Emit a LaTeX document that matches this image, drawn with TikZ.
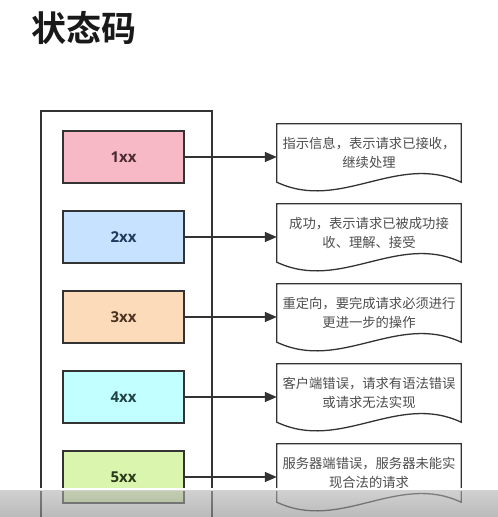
\documentclass[tikz,border=0pt]{standalone}
\usepackage{fontspec}
\newfontfamily\cjk{Noto Sans CJK SC}
\newfontfamily\cjkbold{Noto Sans CJK SC Bold}
\newfontfamily\lbl{Open Sans Bold}
\usetikzlibrary{arrows.meta,calc}
\definecolor{c1}{HTML}{F8B9C6}
\definecolor{c2}{HTML}{C6E2FF}
\definecolor{c3}{HTML}{FCDBBA}
\definecolor{c4}{HTML}{C2FFFF}
\definecolor{c5}{HTML}{DAF5AE}
\definecolor{t1}{HTML}{4A2A30}
\definecolor{t2}{HTML}{1F3A5A}
\definecolor{t3}{HTML}{4A3322}
\definecolor{t4}{HTML}{1F4242}
\definecolor{t5}{HTML}{2A3A1A}
\definecolor{edge}{HTML}{333333}
\definecolor{doctext}{HTML}{4D4D4D}
\tikzset{
  codebox/.style={draw=edge, line width=1.4pt, minimum width=121pt, minimum height=52pt, inner sep=0pt, font=\lbl\fontsize{15}{15}\selectfont},
  docnode/.style={minimum width=184pt, minimum height=58pt, inner sep=0pt, align=center, text=doctext, font=\cjk\fontsize{13.3}{19}\selectfont},
  docline/.style={draw=edge, line width=1.3pt, fill=white},
  arr/.style={draw=edge, line width=1.4pt, -{Triangle[length=12pt,width=10pt]}},
}
\begin{document}
\begin{tikzpicture}[x=1pt,y=-1pt]
\useasboundingbox (0,0) rectangle (498,517);
\fill[white] (0,0) rectangle (498,517);
\node[anchor=west, inner sep=0pt, font=\cjkbold\fontsize{35}{35}\selectfont, text=black!90] (title) at (31,28) {状态码};
\draw[edge, line width=1.4pt] (41,517) -- (41,111) -- (212,111) -- (212,517);
\foreach \i/\lab/\ln/\lt in {
  1/1xx/{指示信息，表示请求已接收，}/{继续处理},
  2/2xx/{成功，表示请求已被成功接}/{收、理解、接受},
  3/3xx/{重定向，要完成请求必须进行}/{更进一步的操作},
  4/4xx/{客户端错误，请求有语法错误}/{或请求无法实现},
  5/5xx/{服务器端错误，服务器未能实}/{现合法的请求}}{
  \pgfmathsetmacro{\c}{157+80*(\i-1)}
  \node[codebox, fill=c\i, text=t\i] (b\i) at (123.5,\c) {\lab};
  \node[docnode] (d\i) at (369,\c-4) {};
  \draw[docline] (d\i.north west) -- (d\i.north east) -- (d\i.south east)
     .. controls ($(d\i.south east)+(-64,-30)$) and ($(d\i.south west)+(64,30)$) .. (d\i.south west) -- cycle;
  \node[docnode] at (d\i.center) {\ln\\\lt};
  \draw[arr] (b\i.east) -- (b\i.east -| d\i.west);
}
\fill[white] (0,487.5) rectangle (498,490.5);
\shade[top color=black!30, bottom color=black!45, fill opacity=0.6] (0,490.5) rectangle (498,517);
\end{tikzpicture}
\end{document}
